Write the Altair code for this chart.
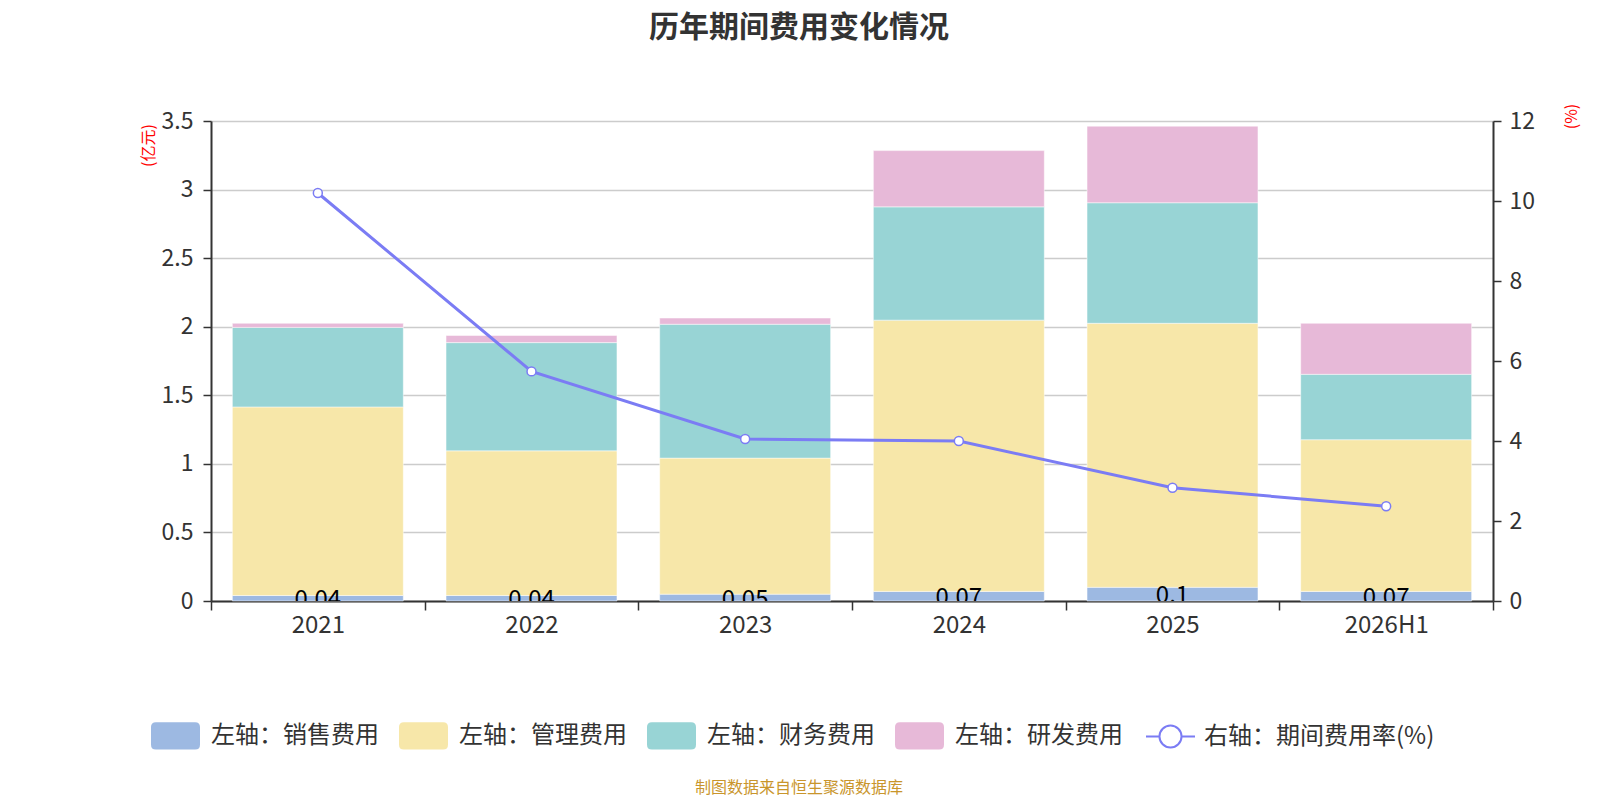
import altair as alt
import pandas as pd

years = ["2021", "2022", "2023", "2024", "2025", "2026H1"]
sales = [0.04, 0.04, 0.05, 0.07, 0.10, 0.07]
admin = [1.375, 1.055, 0.992, 1.978, 1.925, 1.106]
finance = [0.58, 0.789, 0.976, 0.826, 0.879, 0.477]
rnd = [0.03, 0.052, 0.045, 0.410, 0.558, 0.372]
rate = [10.20, 5.74, 4.05, 4.00, 2.83, 2.37]
sales_labels = ["0.04", "0.04", "0.05", "0.07", "0.1", "0.07"]

items = ["左轴：销售费用", "左轴：管理费用", "左轴：财务费用", "左轴：研发费用"]
item_colors = ["#9db9e2", "#f7e7a9", "#98d4d5", "#e7b9d8"]
line_name = "右轴：期间费用率(%)"
line_color = "#7b7cf4"
font = "Noto Sans CJK SC"

rows = []
for i, y in enumerate(years):
    for k, (name, vals) in enumerate(zip(items, [sales, admin, finance, rnd])):
        rows.append({"year": y, "item": name, "value": vals[i], "ord": k})
bar_df = pd.DataFrame(rows)
label_df = pd.DataFrame({"year": years, "sales": sales, "label": sales_labels})
label_df["mid"] = label_df["sales"] / 2
line_df = pd.DataFrame({"year": years, "rate": rate, "series": [line_name] * len(years)})
footer_df = pd.DataFrame({"t": ["制图数据来自恒生聚源数据库"]})

rect_path = ("M-0.8,-0.56L0.8,-0.56Q1,-0.56,1,-0.36L1,0.36Q1,0.56,0.8,0.56"
             "L-0.8,0.56Q-1,0.56,-1,0.36L-1,-0.36Q-1,-0.56,-0.8,-0.56Z")
line_path = ("M-1,0L-0.45,0M0.45,0L1,0M0.45,0A0.45,0.45,0,1,1,-0.45,0"
             "A0.45,0.45,0,1,1,0.45,0Z")

x_scale = alt.Scale(paddingInner=0, paddingOuter=0)
x_axis = alt.Axis(title=None, labelAngle=0, tickBand="extent", labelFontSize=24,
                  labelColor="#333", labelPadding=3, tickSize=9, tickColor="#333",
                  tickWidth=1.5, domainColor="#333", domainWidth=2, grid=False)
x_enc = alt.X("year:N", sort=years, scale=x_scale, axis=x_axis)

y_scale = alt.Scale(domain=[0, 3.5], nice=False)
y_axis = alt.Axis(values=[0, 0.5, 1, 1.5, 2, 2.5, 3, 3.5], format="~g",
                  title="(亿元)", titleColor="red", titleFontSize=16,
                  titleFontWeight="normal", titleAngle=270, titleX=-63, titleY=24,
                  titleAlign="center", titleBaseline="middle",
                  labelFontSize=23, labelColor="#333", labelPadding=10,
                  tickSize=8, tickColor="#333", tickWidth=1.5,
                  domainColor="#333", domainWidth=2,
                  gridColor="#cccccc", gridWidth=1.5)

bars = alt.Chart(bar_df).mark_bar(
    width=alt.RelativeBandSize(0.8), stroke="white", strokeWidth=0.8, strokeOpacity=0.6
).encode(
    x=x_enc,
    y=alt.Y("value:Q", stack="zero", scale=y_scale, axis=y_axis),
    color=alt.Color("item:N", scale=alt.Scale(domain=items, range=item_colors),
                    legend=alt.Legend(title=None, orient="none", legendX=-60, legendY=590,
                                      direction="horizontal", symbolType=rect_path,
                                      symbolSize=2401, symbolStrokeWidth=0,
                                      labelFontSize=24, labelColor="#333", labelOffset=11,
                                      labelLimit=300, columnPadding=20, padding=0)),
    order=alt.Order("ord:Q", sort="ascending"),
)

labels = alt.Chart(label_df).mark_text(fontSize=24, color="#000", baseline="middle",
                                       align="center", dy=2, clip=True).encode(
    x=alt.X("year:N", sort=years, scale=x_scale, axis=x_axis),
    y=alt.Y("mid:Q", scale=y_scale, axis=y_axis),
    text="label:N",
)

footer = alt.Chart(footer_df).mark_text(fontSize=16, color="#c9952b", align="center",
                                        baseline="middle").encode(
    x=alt.value(588), y=alt.value(667), text="t:N")

line = alt.Chart(line_df).mark_line(
    strokeWidth=3,
    point=alt.OverlayMarkDef(filled=False, fill="white", size=80, strokeWidth=1.5),
).encode(
    x=alt.X("year:N", sort=years, scale=x_scale, axis=x_axis),
    y=alt.Y("rate:Q", scale=alt.Scale(domain=[0, 12], nice=False),
            axis=alt.Axis(orient="right", values=[0, 2, 4, 6, 8, 10, 12], grid=False,
                          title="(%)", titleColor="red", titleFontSize=16,
                          titleFontWeight="normal", titleAngle=270, titleX=78, titleY=-5,
                          titleAlign="center", titleBaseline="middle",
                          labelFontSize=23, labelColor="#333", labelPadding=8,
                          tickSize=8, tickColor="#333", tickWidth=1.5,
                          domainColor="#333", domainWidth=2)),
    stroke=alt.Stroke("series:N", scale=alt.Scale(domain=[line_name], range=[line_color]),
                      legend=alt.Legend(title=None, orient="none", legendX=934, legendY=590,
                                        symbolType=line_path, symbolSize=2401,
                                        symbolFillColor="white", symbolStrokeColor=line_color,
                                        symbolStrokeWidth=2, labelFontSize=24,
                                        labelColor="#333", labelOffset=8, labelLimit=300,
                                        padding=0)),
)

chart = alt.layer(alt.layer(bars, labels, footer), line).resolve_scale(
    y="independent"
).properties(
    width=1282, height=480,
    padding={"left": 203, "top": 113, "right": 90, "bottom": 199},
    autosize=alt.AutoSizeParams(type="none"),
    title=alt.TitleParams(text="历年期间费用变化情况", fontSize=30, fontWeight="bold",
                          color="#333", anchor="middle", dx=-53, offset=60),
).configure(font=font).configure_view(stroke=None)

chart.save("out.html", embed_options={"renderer": "svg", "actions": False})
